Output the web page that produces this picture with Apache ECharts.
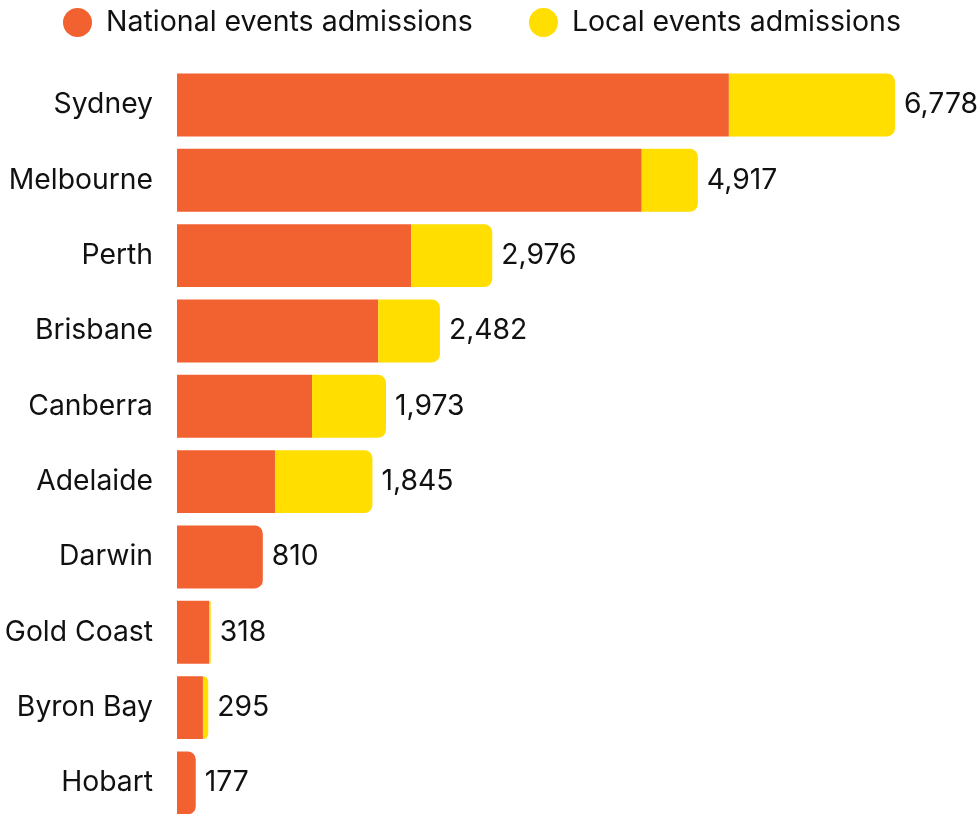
<!DOCTYPE html>
<html>
<head>
<meta charset="utf-8">
<script src="https://cdn.jsdelivr.net/npm/echarts@6/dist/echarts.min.js"></script>
<style>
  html, body { margin: 0; padding: 0; background: #fff; }
  #chart { width: 979px; height: 814px; }
</style>
</head>
<body>
<div id="chart"></div>
<script>
const cities = ['Sydney', 'Melbourne', 'Perth', 'Brisbane', 'Canberra', 'Adelaide', 'Darwin', 'Gold Coast', 'Byron Bay', 'Hobart'];
const national = [5210, 4387, 2210, 1900, 1275, 925, 810, 303, 245, 177];
const local = [1568, 530, 766, 582, 698, 920, 0, 15, 50, 0];
const totals = [6778, 4917, 2976, 2482, 1973, 1845, 810, 318, 295, 177];

const ORANGE = '#F26130';
const YELLOW = '#FFDE00';
const FONT = 'Inter';

const dom = document.getElementById('chart');
const myChart = echarts.init(dom, null, { renderer: 'canvas' });

// rounded right end only on the outer segment of each stack
const nationalData = national.map((v, i) => ({
    value: v,
    itemStyle: { borderRadius: local[i] > 0 ? 0 : [0, 8, 8, 0] }
}));
const localData = local.map(v => ({
    value: v,
    itemStyle: { borderRadius: [0, 8, 8, 0] }
}));

const option = {
    animation: false,
    textStyle: { fontFamily: FONT },
    legend: {
        top: 3,
        left: 58,
        icon: 'circle',
        itemWidth: 29,
        itemHeight: 29,
        itemGap: 56,
        textStyle: {
            fontFamily: FONT,
            fontSize: 28.5,
            color: '#111',
            padding: [0, 0, 0, 9]
        },
        data: ['National events admissions', 'Local events admissions']
    },
    grid: {
        left: 177,
        top: 67.3,
        width: 741.5,
        height: 753.3,
        outerBoundsMode: 'none'
    },
    xAxis: {
        type: 'value',
        min: 0,
        max: 7000,
        show: false
    },
    yAxis: {
        type: 'category',
        inverse: true,
        data: cities,
        axisLine: { show: false },
        axisTick: { show: false },
        axisLabel: {
            margin: 24,
            fontFamily: FONT,
            fontSize: 28.3,
            color: '#111'
        }
    },
    series: [
        {
            name: 'National events admissions',
            type: 'bar',
            stack: 'total',
            barCategoryGap: '16.5%',
            itemStyle: { color: ORANGE },
            data: nationalData
        },
        {
            name: 'Local events admissions',
            type: 'bar',
            stack: 'total',
            barCategoryGap: '16.5%',
            itemStyle: { color: YELLOW },
            data: localData,
            label: {
                show: true,
                position: 'right',
                distance: 9,
                fontFamily: FONT,
                fontSize: 28.3,
                color: '#111',
                formatter: p => totals[p.dataIndex].toLocaleString('en-US')
            }
        }
    ]
};

myChart.setOption(option);
window.addEventListener('resize', myChart.resize);
</script>
</body>
</html>
